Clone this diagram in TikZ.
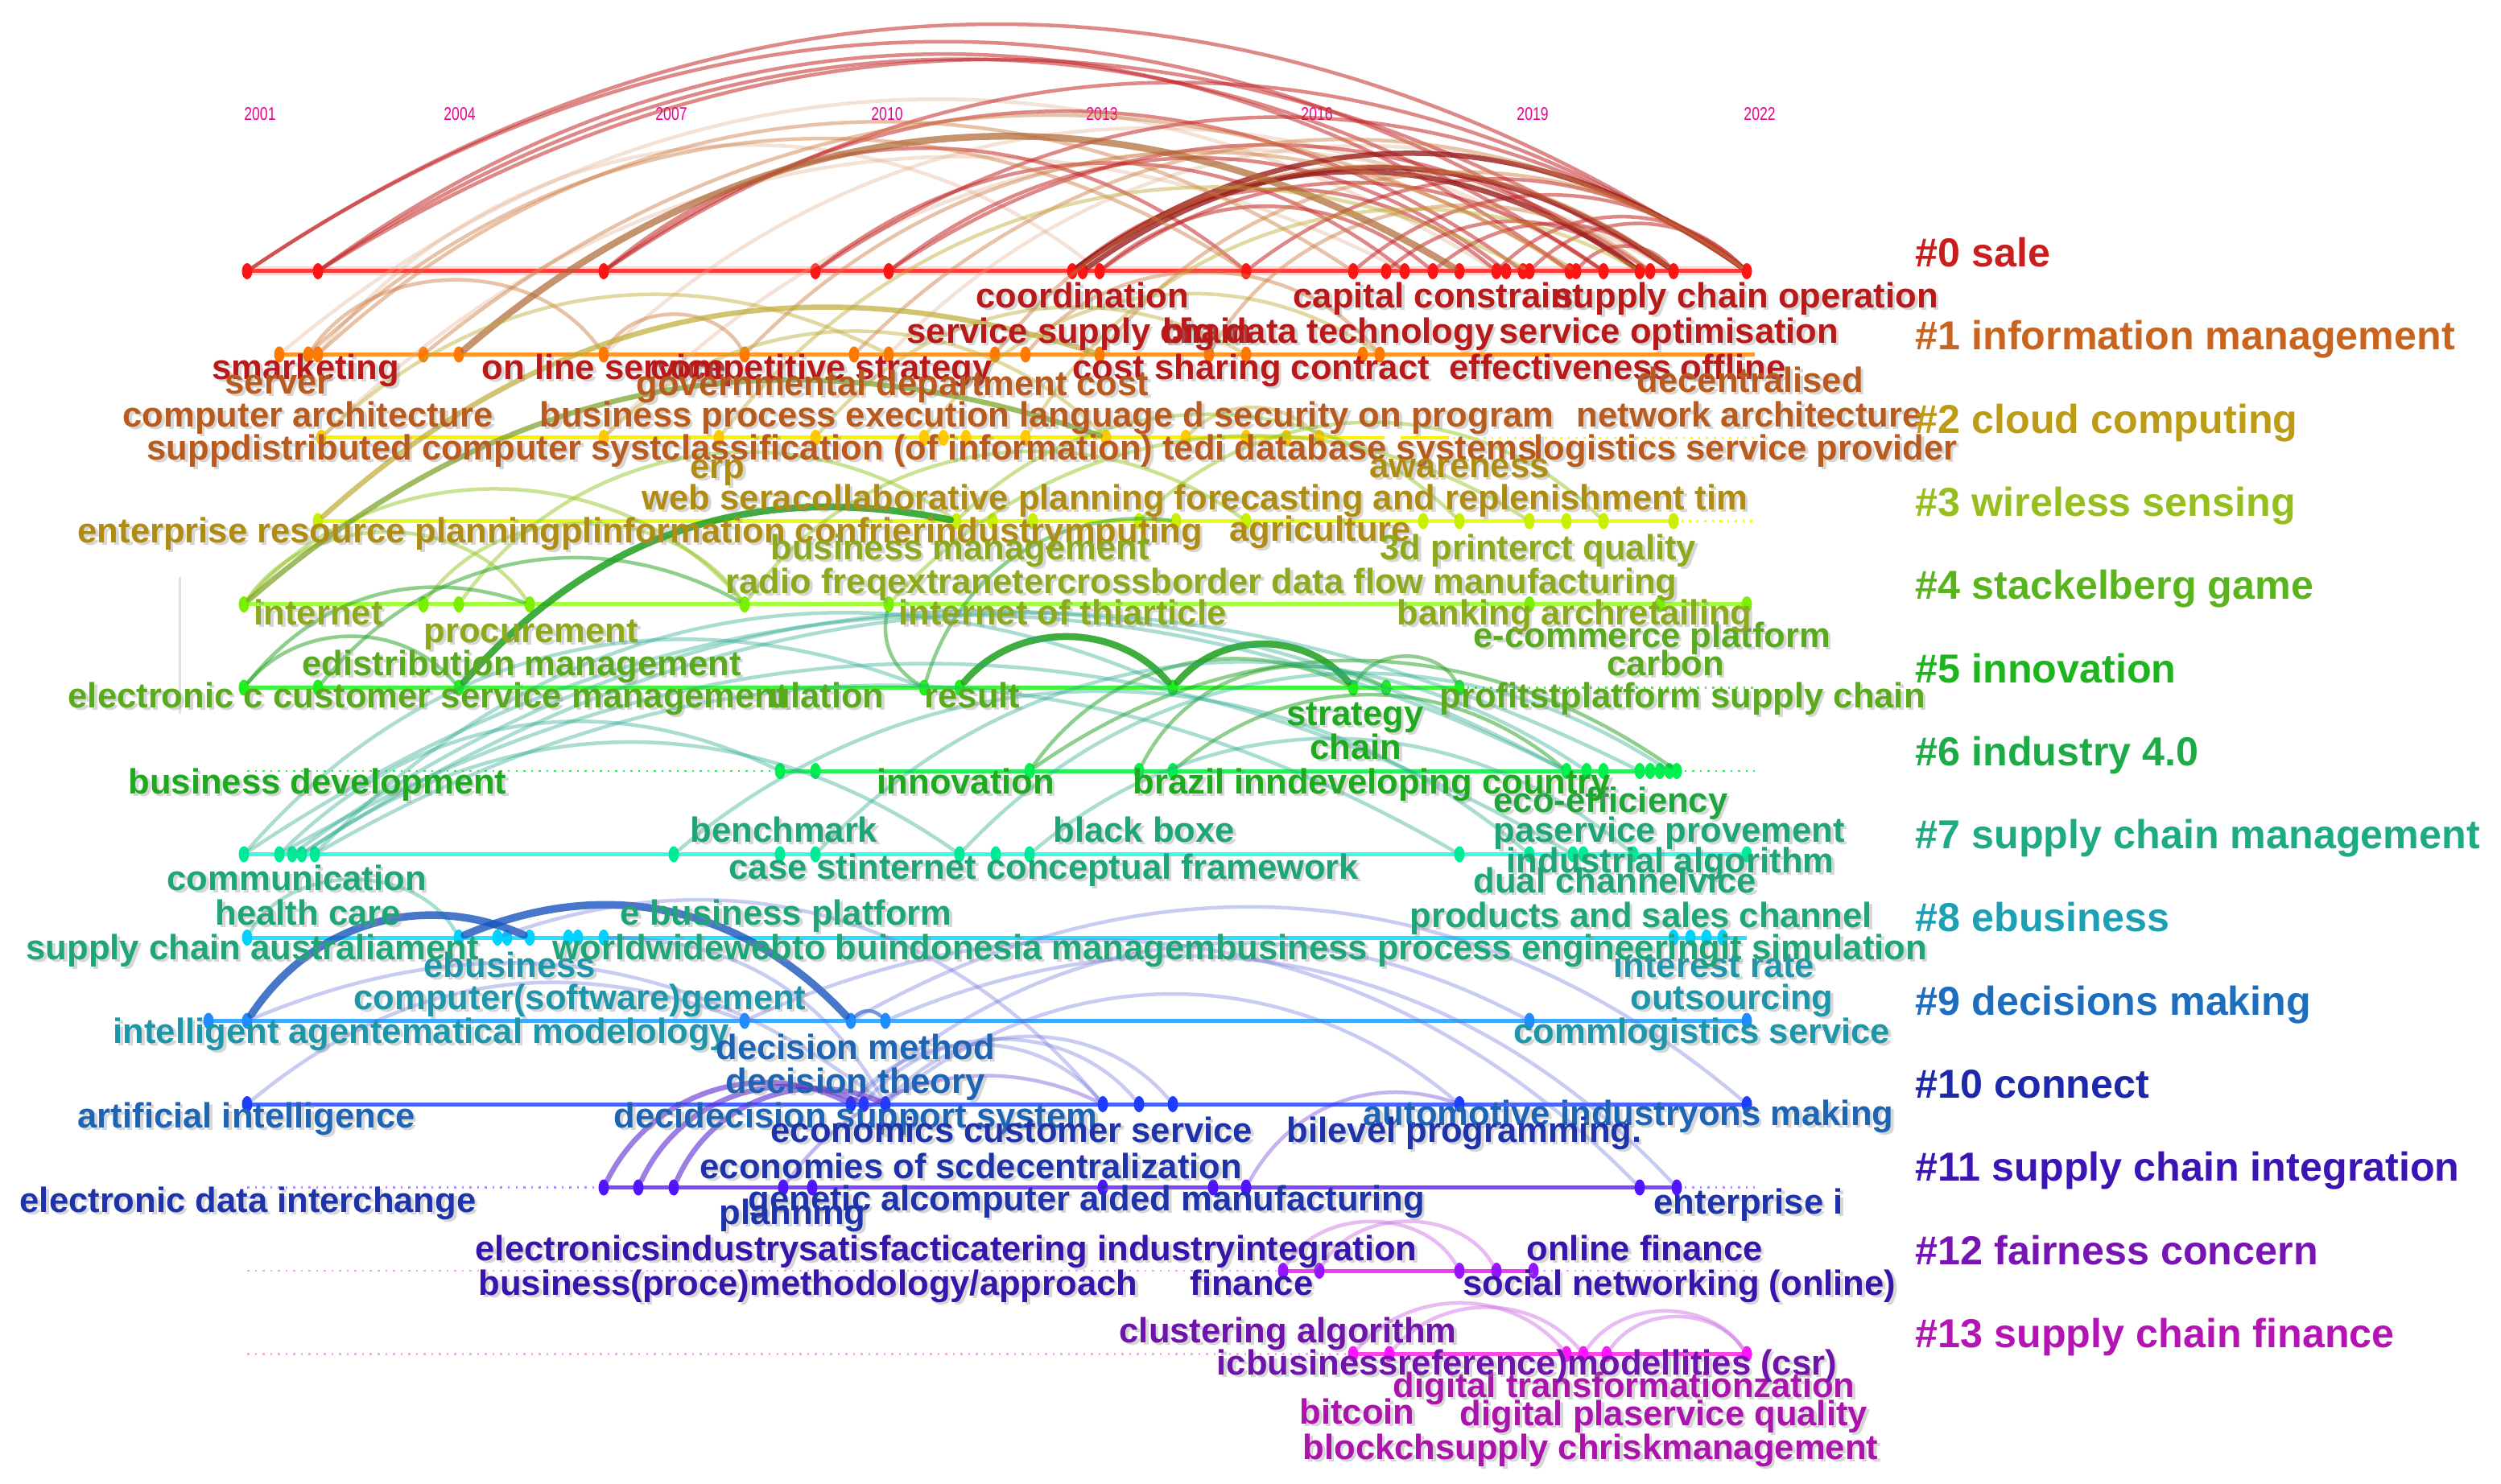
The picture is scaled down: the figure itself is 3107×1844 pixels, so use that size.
\documentclass[tikz,border=0pt]{standalone}
\usepackage{fontspec}
\setmainfont{Liberation Sans}
\usetikzlibrary{shapes.geometric}
% row line colours
\definecolor{L0}{RGB}{255,60,60}\definecolor{L1}{RGB}{255,150,40}\definecolor{L2}{RGB}{255,240,0}
\definecolor{L3}{RGB}{232,250,30}\definecolor{L4}{RGB}{160,255,60}\definecolor{L5}{RGB}{60,245,60}
\definecolor{L6}{RGB}{40,240,90}\definecolor{L7}{RGB}{60,250,230}\definecolor{L8}{RGB}{40,225,255}
\definecolor{L9}{RGB}{60,170,255}\definecolor{L10}{RGB}{70,100,255}\definecolor{L11}{RGB}{130,70,255}
\definecolor{L12}{RGB}{240,60,240}\definecolor{L13}{RGB}{255,70,230}
% dot colours
\definecolor{D0}{RGB}{255,20,20}\definecolor{D1}{RGB}{255,120,0}\definecolor{D2}{RGB}{255,200,0}
\definecolor{D3}{RGB}{200,240,0}\definecolor{D4}{RGB}{120,240,0}\definecolor{D5}{RGB}{30,240,30}
\definecolor{D6}{RGB}{0,240,80}\definecolor{D7}{RGB}{0,235,150}\definecolor{D8}{RGB}{0,210,255}
\definecolor{D9}{RGB}{30,140,255}\definecolor{D10}{RGB}{30,60,255}\definecolor{D11}{RGB}{80,20,255}
\definecolor{D12}{RGB}{150,20,255}\definecolor{D13}{RGB}{255,20,255}
% label colours
\definecolor{T0}{RGB}{185,25,25}\definecolor{T1}{RGB}{185,90,30}\definecolor{T2}{RGB}{175,140,20}
\definecolor{T3}{RGB}{140,170,30}\definecolor{T4}{RGB}{90,170,30}\definecolor{T5}{RGB}{30,170,30}
\definecolor{T6}{RGB}{30,165,60}\definecolor{T7}{RGB}{30,165,120}\definecolor{T8}{RGB}{30,150,170}
\definecolor{T9}{RGB}{30,100,180}\definecolor{T10}{RGB}{30,50,170}\definecolor{T11}{RGB}{55,20,170}
\definecolor{T12}{RGB}{110,20,170}\definecolor{T13}{RGB}{170,20,170}
% cluster label colours
\definecolor{K0}{RGB}{200,30,30}\definecolor{K1}{RGB}{200,100,30}\definecolor{K2}{RGB}{190,155,20}
\definecolor{K3}{RGB}{150,190,30}\definecolor{K4}{RGB}{90,180,30}\definecolor{K5}{RGB}{30,180,30}
\definecolor{K6}{RGB}{30,170,70}\definecolor{K7}{RGB}{30,170,130}\definecolor{K8}{RGB}{30,160,180}
\definecolor{K9}{RGB}{30,110,190}\definecolor{K10}{RGB}{30,40,170}\definecolor{K11}{RGB}{60,20,180}
\definecolor{K12}{RGB}{120,20,180}\definecolor{K13}{RGB}{180,20,180}
% arc colours
\definecolor{A0}{RGB}{195,40,40}\definecolor{A1}{RGB}{205,120,60}\definecolor{A2}{RGB}{190,170,50}
\definecolor{A3}{RGB}{150,200,40}\definecolor{A5}{RGB}{30,160,30}\definecolor{A7}{RGB}{40,170,140}
\definecolor{A9}{RGB}{25,85,190}\definecolor{A10}{RGB}{100,110,220}\definecolor{A11}{RGB}{90,40,210}
\definecolor{A13}{RGB}{210,120,230}
\newcommand\lab[5]{%
  \node[lbl,text=black!45,opacity=.35,xshift=.35mm,yshift=-.35mm] (#1s) at (#2,#3) {#5};
  \node[lbl,text=#4] (#1) at (#2,#3) {#5};}
\newcommand\arcset[2]{\foreach \a/\b/\bb in {#2} \draw[#1] (\a) to[bend left=\bb] (\b);}
\begin{document}
\begin{tikzpicture}[x=0.1mm,y=-0.1mm,
  dot/.style={ellipse,draw=none,minimum width=1.3mm,minimum height=2mm,inner sep=0},
  rowline/.style={line width=0.5mm},
  dotline/.style={line width=0.25mm,dotted},
  arcline/.style={line width=0.45mm,line cap=round},
  lbl/.style={anchor=mid west,inner sep=0,font=\bfseries\fontsize{12.4}{12.4}\selectfont},
  cl/.style={anchor=mid west,inner sep=0,font=\bfseries\fontsize{14.3}{14.3}\selectfont},
  yr/.style={anchor=center,inner sep=0,text=magenta,font=\fontsize{5}{5}\selectfont,yscale=1.3}]
\useasboundingbox (0,0) rectangle (3107,1844);
\fill[white] (0,0) rectangle (3107,1844);

% years
\foreach \x/\yy in {323/2001,571/2004,834/2007,1102/2010,1369/2013,1636/2016,1904/2019,2186/2022}
  \node[yr] (y\yy) at (\x,142) {\yy};

% faint vertical rule
\draw[black!12,line width=0.3mm] (223,717) -- (223,887);

% row lines
\draw[L0!40,line width=1.1mm,opacity=.5] (307,337) -- (2170,337);
\draw[rowline,L0] (307,337) -- (2170,337);
\draw[rowline,L1] (347,440.5) -- (2180,440.5);
\draw[rowline,L2] (399,544) -- (1660,544);
\draw[dotline,L2,line width=.45mm,dash pattern=on 6mm off 2mm] (1660,544) -- (1805,544);
\draw[dotline,L2] (1805,544) -- (2180,544);
\draw[rowline,L3] (395,647.5) -- (2079,647.5);
\draw[dotline,L3] (2079,647.5) -- (2180,647.5);
\draw[rowline,L4] (303,751) -- (2170,751);
\draw[rowline,L5] (303,854.5) -- (1813,854.5);
\draw[dotline,L5] (1813,854.5) -- (2180,854.5);
\draw[dotline,L6] (307,958) -- (969,958);
\draw[rowline,L6] (969,958) -- (2083,958);
\draw[dotline,L6] (2083,958) -- (2180,958);
\draw[rowline,L7] (303,1061.5) -- (2170,1061.5);
\draw[rowline,L8] (307,1165) -- (2170,1165);
\draw[rowline,L9] (259,1268.5) -- (2170,1268.5);
\draw[rowline,L10] (307,1372) -- (2170,1372);
\draw[dotline,L11!60] (307,1475.5) -- (750,1475.5);
\draw[rowline,L11] (750,1475.5) -- (2083,1475.5);
\draw[dotline,L11!60] (2083,1475.5) -- (2180,1475.5);
\draw[dotline,L12!50] (307,1579) -- (2180,1579);
\draw[rowline,L12] (1594,1579) -- (1905,1579);
\draw[dotline,L13!50] (307,1682.5) -- (2180,1682.5);
\draw[rowline,L13] (1681,1682.5) -- (2170,1682.5);

% dots
\foreach \x [count=\i] in {307,395,750,1013,1104,1332,1345,1366,1548,1681,1722,1745,1780,1813,1859,1871,1892,1900,1950,1958,1992,2037,2050,2079,2170}
  \node[dot,fill=D0] (r0-\i) at (\x,337) {};
\foreach \x [count=\i] in {347,383,395,526,570,750,925,1061,1104,1236,1274,1366,1502,1548,1693,1714}
  \node[dot,fill=D1] (r1-\i) at (\x,440.5) {};
\foreach \x [count=\i] in {399,750,893,1013,1148,1172,1200,1274,1374,1473,1548,1598,1639}
  \node[dot,fill=D2] (r2-\i) at (\x,544) {};
\foreach \x [count=\i] in {395,1188,1233,1283,1415,1461,1548,1768,1813,1900,1946,1992,2079}
  \node[dot,fill=D3] (r3-\i) at (\x,647.5) {};
\foreach \x [count=\i] in {303,526,570,658,925,1104,1900,2062,2170}
  \node[dot,fill=D4] (r4-\i) at (\x,751) {};
\foreach \x [count=\i] in {303,395,570,1148,1192,1457,1681,1722,1813}
  \node[dot,fill=D5] (r5-\i) at (\x,854.5) {};
\foreach \x [count=\i] in {969,1013,1279,1415,1457,1946,1971,1992,2037,2050,2062,2074,2083}
  \node[dot,fill=D6] (r6-\i) at (\x,958) {};
\foreach \x [count=\i] in {303,347,363,375,391,837,969,1013,1192,1237,1279,1813,1900,1954,1967,2029,2170}
  \node[dot,fill=D7] (r7-\i) at (\x,1061.5) {};
\foreach \x [count=\i] in {307,570,618,630,658,706,718,750,2079,2100,2120,2140}
  \node[dot,fill=D8] (r8-\i) at (\x,1165) {};
\foreach \x [count=\i] in {259,307,925,1057,1100,1900,2170}
  \node[dot,fill=D9] (r9-\i) at (\x,1268.5) {};
\foreach \x [count=\i] in {307,1057,1073,1100,1370,1415,1457,1813,2170}
  \node[dot,fill=D10] (r10-\i) at (\x,1372) {};
\foreach \x [count=\i] in {750,793,837,973,1009,1370,1507,1548,2037,2083}
  \node[dot,fill=D11] (r11-\i) at (\x,1475.5) {};
\foreach \x [count=\i] in {1594,1639,1813,1859,1905}
  \node[dot,fill=D12] (r12-\i) at (\x,1579) {};
\foreach \x [count=\i] in {1681,1726,1946,1967,1996,2170}
  \node[dot,fill=D13] (r13-\i) at (\x,1682.5) {};

% arcs
\arcset{arcline,A1!60,opacity=.35}{r1-1/r0-15/36,r1-3/r0-8/45,r2-1/r0-12/36,r1-9/r0-25/40,r1-6/r0-21/38,r2-2/r0-24/38}
\arcset{arcline,A0,opacity=.55}{r0-1/r0-25/34,r0-1/r0-22/34,r0-2/r0-21/34,r0-2/r0-24/32,r0-2/r0-19/36,
  r0-3/r0-25/34,r0-3/r0-17/36,r0-4/r0-25/34,r0-5/r0-23/34,r0-8/r0-21/36,r0-6/r0-15/40,r0-8/r0-13/40,
  r0-9/r0-25/38,r0-10/r0-25/40,r0-11/r0-22/40,r0-13/r0-24/40,r0-15/r0-25/45,r0-18/r0-25/45,
  r0-20/r0-24/50,r0-3/r0-9/40,r0-4/r0-12/38,r0-5/r0-16/38}
\arcset{arcline,A0!80!black,opacity=.8,line width=.65mm}{r0-6/r0-25/36,r0-6/r0-22/36,r0-7/r0-24/36}
\arcset{arcline,A1,opacity=.45}{r1-3/r0-10/38,r1-2/r0-9/38,r1-6/r1-7/60,r1-2/r1-6/55,r1-7/r0-19/40,
  r1-8/r0-25/40,r1-10/r0-24/45,r1-12/r0-25/45,r1-4/r0-20/35,r1-11/r1-16/50,r1-13/r0-23/50}
\arcset{arcline,A1!85!black,opacity=.7,line width=.85mm}{r1-5/r0-14/36}
\arcset{arcline,A2,opacity=.45}{r2-1/r1-9/35,r2-2/r2-9/45,r2-4/r1-14/40,r2-5/r1-16/45,r2-3/r0-18/40,
  r2-8/r0-22/45,r2-10/r2-13/45}
\arcset{arcline,A2,opacity=.7,line width=.65mm}{r3-1/r1-12/30}
\arcset{arcline,A3,opacity=.5}{r4-1/r4-4/55,r4-1/r4-5/50,r4-2/r4-5/55,r4-3/r3-2/45,r4-5/r3-7/45,
  r4-6/r3-10/40,r3-2/r3-9/45,r3-5/r3-12/45}
\arcset{arcline,A3!80!black,opacity=.7,line width=.65mm}{r4-1/r2-9/30}
\arcset{arcline,A5,opacity=.5}{r5-1/r4-4/35,r5-2/r4-5/40,r5-1/r5-3/50,r6-3/r5-7/40,r6-4/r5-8/45,
  r5-4/r4-6/35,r5-7/r5-9/60,r5-4/r3-6/40,r6-5/r6-6/40,r6-3/r6-13/35}
\arcset{arcline,A5,opacity=.85,line width=.85mm}{r5-3/r3-2/30,r5-5/r5-6/50,r5-6/r5-7/50}
\arcset{arcline,A7,opacity=.4}{r7-1/r5-4/35,r7-2/r6-1/35,r7-3/r6-6/32,r7-4/r6-9/30,r7-5/r5-6/35,
  r7-5/r7-12/30,r7-4/r7-9/35,r7-6/r7-13/40,r7-9/r6-12/40,r7-11/r7-16/40,r7-8/r6-7/40,r8-1/r8-2/60,
  r7-1/r6-6/30,r7-2/r7-14/30}
\arcset{arcline,A9,opacity=.8,line width=.95mm}{r8-2/r9-4/35,r9-2/r8-5/40}
\arcset{arcline,A9,opacity=.6}{r9-4/r9-5/45}
\arcset{arcline,A10,opacity=.35}{r10-1/r9-3/30,r10-2/r10-5/50,r10-3/r10-6/50,r10-4/r10-7/50,
  r10-4/r10-8/40,r9-3/r11-9/35,r9-5/r11-10/35,r8-8/r10-4/30,r10-2/r9-6/35,r9-4/r10-9/35,
  r8-3/r10-5/35,r9-2/r10-4/30}
\arcset{arcline,A11,opacity=.6,line width=.65mm}{r11-1/r10-2/45,r11-2/r10-3/45,r11-3/r10-4/45}
\arcset{arcline,A11,opacity=.35}{r11-4/r10-5/40,r11-8/r10-8/40}
\arcset{arcline,A13,opacity=.5}{r12-1/r12-3/60,r12-2/r12-4/60,r13-1/r13-3/50,r13-2/r13-4/50,
  r13-4/r13-6/55,r13-5/r13-6/55}

% labels row 0
\lab{l0a}{1212}{373}{T0}{coordination}
\lab{l0b}{1606}{373}{T0}{capital constraint}
\lab{l0c}{1930}{373}{T0}{supply chain operation}
\lab{l0d}{1126}{417}{T0}{service supply chain}
\lab{l0e}{1444}{417}{T0}{big data technology}
\lab{l0f}{1862}{417}{T0}{service optimisation}
\lab{l0g}{263}{462}{T0}{smarketing}
\lab{l0h}{598}{462}{T0}{on line service}
\lab{l0i}{808}{462}{T0}{competitive strategy}
\lab{l0j}{1332}{462}{T0}{cost sharing contract}
\lab{l0k}{1800}{462}{T0}{effectiveness}
\lab{l0l}{2087}{462}{T0}{offline}
% row 1
\lab{l1a}{279}{480}{T1}{server}
\lab{l1b}{790}{482}{T1}{governmental department}
\lab{l1c}{1337}{482}{T1}{cost}
\lab{l1d}{2033}{478}{T1}{decentralised}
\lab{l1e}{152}{521}{T1}{computer architecture}
\lab{l1f}{670}{521}{T1}{business process execution language d security on program}
\lab{l1g}{1958}{521}{T1}{network architecture}
\lab{l1h}{182}{562}{T1}{suppdistributed computer systclassification (of information) tedi database systems}
\lab{l1i}{1905}{562}{T1}{logistics service provider}
% row 2
\lab{l2a}{857}{585}{T2}{erp}
\lab{l2b}{1701}{584}{T2}{awareness}
\lab{l2c}{797}{624}{T2}{web seracollaborative planning forecasting and replenishment tim}
\lab{l2d}{96}{665}{T2}{enterprise resource planningplinformation confrierindustrymputing}
\lab{l2e}{1527}{663}{T2}{agriculture}
% row 3 / 4
\lab{l3a}{957}{686}{T3}{business management}
\lab{l3b}{1714}{686}{T3}{3d printerct quality}
\lab{l3c}{901}{728}{T3}{radio freqextranetercrossborder data flow manufacturing}
\lab{l4a}{1830}{795}{T4}{e-commerce platform}
\lab{l3d}{315}{767}{T3}{internet}
\lab{l3e}{1116}{767}{T3}{internet of thiarticle}
\lab{l3f}{1735}{767}{T3}{banking archretailing}
\lab{l3g}{526}{789}{T3}{procurement}
\lab{l4b}{375}{830}{T4}{edistribution management}
\lab{l4c}{1996}{830}{T4}{carbon}
\lab{l4d}{84}{870}{T4}{electronic c}
\lab{l4e}{339}{870}{T4}{customer service management}
\lab{l4f}{955}{870}{T4}{ulation}
\lab{l4g}{1148}{870}{T4}{result}
\lab{l4h}{1788}{870}{T4}{profitstplatform supply chain}
% row 5 / 6
\lab{l5a}{1598}{892}{T5}{strategy}
\lab{l5b}{1627}{934}{T5}{chain}
\lab{l5c}{159}{977}{T5}{business development}
\lab{l5d}{1089}{977}{T5}{innovation}
\lab{l5f}{1855}{1000}{T6}{eco-efficiency}
\lab{l5e}{1407}{977}{T5}{brazil inndeveloping country}
% row 7
\lab{l7a}{857}{1037}{T7}{benchmark}
\lab{l7b}{1308}{1037}{T7}{black boxe}
\lab{l7d}{1871}{1075}{T7}{industrial algorithm}
\lab{l7c}{1855}{1037}{T7}{paservice provement}
\lab{l7e}{905}{1083}{T7}{case stinternet conceptual framework}
\lab{l7f}{207}{1097}{T7}{communication}
\lab{l7g}{1830}{1100}{T7}{dual channelvice}
\lab{l7h}{267}{1140}{T7}{health care}
\lab{l7i}{770}{1140}{T7}{e business platform}
\lab{l7j}{1751}{1143}{T7}{products and sales channel}
\lab{l8b}{2004}{1205}{T8}{interest rate}
\lab{l8a}{526}{1205}{T8}{ebusiness}
\lab{l7k}{32}{1183}{T7}{supply chain australiament}
\lab{l7l}{686}{1183}{T7}{worldwidewebto buindonesia managembusiness process engineeringit simulation}
% row 8 / 9
\lab{l8c}{439}{1245}{T8}{computer(software)gement}
\lab{l8d}{2025}{1245}{T8}{outsourcing}
\lab{l8e}{140}{1287}{T8}{intelligent agentematical modelology}
\lab{l8f}{1880}{1287}{T8}{commlogistics service}
\lab{l9a}{889}{1307}{T9}{decision method}
\lab{l9b}{901}{1349}{T9}{decision theory}
\lab{l9c}{96}{1392}{T9}{artificial intelligence}
\lab{l9d}{762}{1392}{T9}{decidecision support system}
\lab{l9e}{1693}{1389}{T9}{automotive industryons making}
% row 10
\lab{l10a}{957}{1410}{T10}{economics customer service}
\lab{l10b}{1598}{1410}{T10}{bilevel programming.}
\lab{l10c}{869}{1455}{T10}{economies of scdecentralization}
\lab{l10d}{24}{1497}{T10}{electronic data interchange}
\lab{l10e}{929}{1495}{T10}{genetic alcomputer aided manufacturing}
\lab{l10f}{2054}{1499}{T10}{enterprise i}
\lab{l10g}{893}{1512}{T10}{planning}
% row 11
\lab{l11a}{590}{1557}{T11}{electronicsindustrysatisfacticatering industryintegration}
\lab{l11b}{1896}{1557}{T11}{online finance}
\lab{l11c}{594}{1600}{T11}{business(proce)methodology/approach}
\lab{l11d}{1478}{1600}{T11}{finance}
\lab{l11e}{1817}{1600}{T11}{social networking (online)}
% row 12 / 13
\lab{l12a}{1390}{1659}{T12}{clustering algorithm}
\lab{l13a}{1730}{1727}{T13}{digital transformationzation}
\lab{l12b}{1511}{1699}{T12}{icbusinessreference)modellities (csr)}
\lab{l13b}{1614}{1760}{T13}{bitcoin}
\lab{l13c}{1813}{1762}{T13}{digital plaservice quality}
\lab{l13d}{1618}{1804}{T13}{blockchsupply chriskmanagement}

% cluster labels
\node[cl,text=K0] (c0) at (2379,322) {\#0 sale};
\node[cl,text=K1] (c1) at (2379,425) {\#1 information management};
\node[cl,text=K2] (c2) at (2379,529) {\#2 cloud computing};
\node[cl,text=K3] (c3) at (2379,632) {\#3 wireless sensing};
\node[cl,text=K4] (c4) at (2379,735) {\#4 stackelberg game};
\node[cl,text=K5] (c5) at (2379,839) {\#5 innovation};
\node[cl,text=K6] (c6) at (2379,942) {\#6 industry 4.0};
\node[cl,text=K7] (c7) at (2379,1045) {\#7 supply chain management};
\node[cl,text=K8] (c8) at (2379,1148) {\#8 ebusiness};
\node[cl,text=K9] (c9) at (2379,1252) {\#9 decisions making};
\node[cl,text=K10] (c10) at (2379,1355) {\#10 connect};
\node[cl,text=K11] (c11) at (2379,1458) {\#11 supply chain integration};
\node[cl,text=K12] (c12) at (2379,1562) {\#12 fairness concern};
\node[cl,text=K13] (c13) at (2379,1665) {\#13 supply chain finance};
\end{tikzpicture}
\end{document}
